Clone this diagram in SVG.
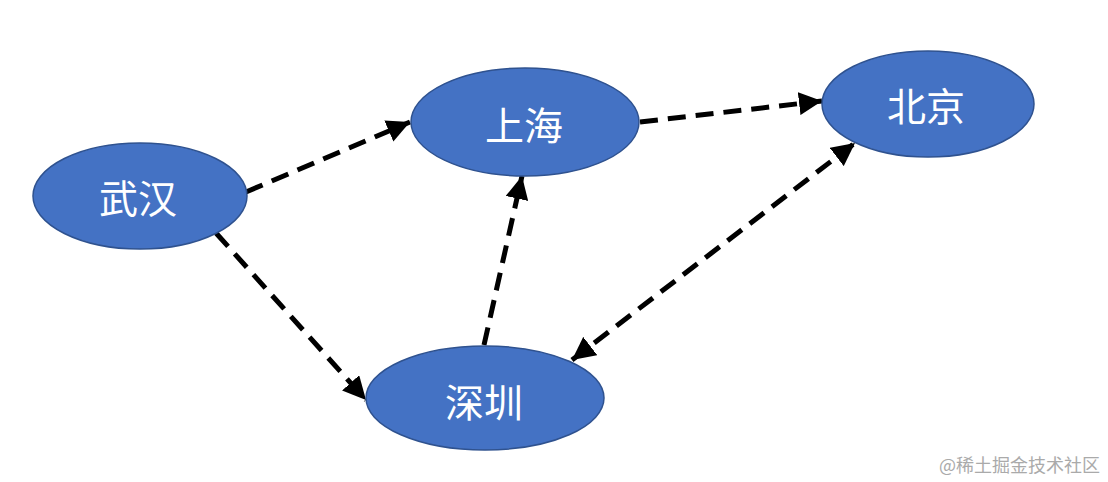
<svg xmlns="http://www.w3.org/2000/svg" width="1108" height="482" viewBox="0 0 1108 482">
<style>
.node ellipse{fill:#4472C4;stroke:#2F528F;stroke-width:1.5}
.node text{fill:#fff;font-family:"Noto Sans CJK SC",sans-serif;font-size:39px;text-anchor:middle;dominant-baseline:central}
.edge{stroke:#000;stroke-width:5;stroke-dasharray:18 10;fill:none}
.wm{fill:#aaa;font-family:"Noto Sans CJK SC",sans-serif;font-size:18px}
</style>
<defs>
<marker id="ah" viewBox="0 0 10 10" refX="10" refY="5" markerWidth="4.6" markerHeight="4.6" orient="auto-start-reverse" markerUnits="strokeWidth">
<path d="M0,0 L10,5 L0,10 z" fill="#000"/>
</marker>
</defs>
<rect width="1108" height="482" fill="#fff"/>
<g id="edges">
<line class="edge" x1="246" y1="192" x2="410" y2="122" marker-end="url(#ah)"/>
<line class="edge" x1="640" y1="122" x2="822" y2="101" marker-end="url(#ah)"/>
<line class="edge" x1="216" y1="233" x2="366" y2="400" marker-end="url(#ah)"/>
<line class="edge" x1="484" y1="345" x2="522" y2="176" marker-end="url(#ah)"/>
<line class="edge" x1="572" y1="360" x2="855" y2="143" marker-start="url(#ah)" marker-end="url(#ah)"/>
</g>
<g id="wuhan" class="node"><ellipse cx="140" cy="196" rx="107" ry="53"/><text x="138" y="196">武汉</text></g>
<g id="shanghai" class="node"><ellipse cx="525" cy="122" rx="114" ry="54"/><text x="524" y="123">上海</text></g>
<g id="beijing" class="node"><ellipse cx="928" cy="104" rx="106" ry="53"/><text x="926" y="104">北京</text></g>
<g id="shenzhen" class="node"><ellipse cx="485" cy="398" rx="119" ry="52"/><text x="484" y="400">深圳</text></g>
<text class="wm" x="1100" y="472" text-anchor="end">@稀土掘金技术社区</text>
</svg>
